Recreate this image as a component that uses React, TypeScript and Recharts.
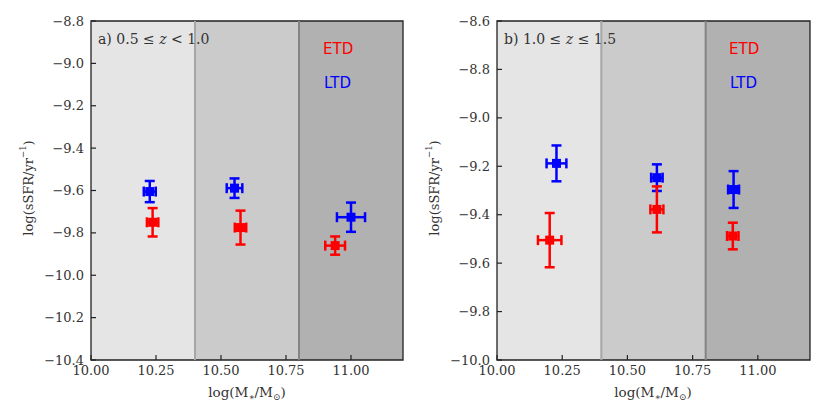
import React from "react"
import { ScatterChart, Scatter, XAxis, YAxis, ErrorBar, ReferenceArea, ReferenceLine } from "recharts"

// stellar mass bins, log(M*/Msun)
const binEdges = [10.0, 10.4, 10.8, 11.2]
const binColors = ["#e5e5e5", "#cbcbcb", "#b1b1b1"]
const binLineColors = ["#a6a6a6", "#848484"]
const xTicks = [10.0, 10.25, 10.5, 10.75, 11.0]

// panel a) 0.5 <= z < 1.0
const aYTicks = [-10.4, -10.2, -10.0, -9.8, -9.6, -9.4, -9.2, -9.0, -8.8]
const aEtdMass = [10.237, 10.575, 10.939]
const aEtdMassErr = [0.022, 0.022, 0.038]
const aEtdSsfr = [-9.75, -9.775, -9.86]
const aEtdSsfrErr = [0.067, 0.08, 0.043]
const aLtdMass = [10.226, 10.552, 11.0]
const aLtdMassErr = [0.023, 0.03, 0.054]
const aLtdSsfr = [-9.605, -9.589, -9.726]
const aLtdSsfrErr = [0.05, 0.046, 0.069]

// panel b) 1.0 <= z <= 1.5
const bYTicks = [-10.0, -9.8, -9.6, -9.4, -9.2, -9.0, -8.8, -8.6]
const bEtdMass = [10.202, 10.613, 10.904]
const bEtdMassErr = [0.045, 0.025, 0.022]
const bEtdSsfr = [-9.505, -9.378, -9.488]
const bEtdSsfrErr = [0.112, 0.095, 0.055]
const bLtdMass = [10.228, 10.613, 10.907]
const bLtdMassErr = [0.038, 0.022, 0.021]
const bLtdSsfr = [-9.188, -9.247, -9.296]
const bLtdSsfrErr = [0.074, 0.055, 0.076]

const SERIF = "'DejaVu Serif', serif"
const SANS = "'DejaVu Sans', sans-serif"
const INK = "#333"
const ETD_COLOR = "#ff0000"
const LTD_COLOR = "#0000ff"

const toRows = (x: number[], xe: number[], y: number[], ye: number[]) =>
  x.map((m, i) => ({ x: m, xe: xe[i], y: y[i], ye: ye[i] }))

const fmtX = (v: number) => v.toFixed(2)
const fmtY = (v: number) => (v < 0 ? "\u2212" + Math.abs(v).toFixed(1) : v.toFixed(1))

const squareShape = (color: string) => (p: any) =>
  <rect x={p.cx - 4.5} y={p.cy - 4.5} width={9} height={9} fill={color} />

interface PanelProps {
  yDomain: [number, number]
  yTicks: number[]
  etd: ReturnType<typeof toRows>
  ltd: ReturnType<typeof toRows>
  width: number
  marginLeft: number
}

function Panel({ yDomain, yTicks, etd, ltd, width, marginLeft }: PanelProps) {
  const tickStyle = { fontFamily: SERIF, fontSize: 13, fill: INK }
  return (
    <ScatterChart width={width} height={409} margin={{ top: 21, right: 7, bottom: 9, left: marginLeft }}>
      <XAxis
        type="number"
        dataKey="x"
        domain={[binEdges[0], binEdges[3]]}
        ticks={xTicks}
        tickFormatter={fmtX}
        allowDataOverflow
        height={40}
        tickSize={-5}
        tickMargin={11}
        axisLine={false}
        tickLine={{ stroke: "#222", strokeWidth: 1.2 }}
        tick={tickStyle}
      />
      <YAxis
        type="number"
        dataKey="y"
        domain={yDomain}
        ticks={yTicks}
        tickFormatter={fmtY}
        allowDataOverflow
        width={60}
        tickSize={-5}
        tickMargin={12}
        axisLine={false}
        tickLine={{ stroke: "#222", strokeWidth: 1.2 }}
        tick={tickStyle}
      />
      {binColors.map((c, i) => (
        <ReferenceArea
          key={c}
          x1={binEdges[i]}
          x2={binEdges[i + 1]}
          y1={yDomain[0]}
          y2={yDomain[1]}
          fill={c}
          fillOpacity={1}
          stroke="none"
        />
      ))}
      {binLineColors.map((c, i) => (
        <ReferenceLine key={c} x={binEdges[i + 1]} stroke={c} strokeWidth={2} />
      ))}
      <ReferenceArea
        x1={binEdges[0]}
        x2={binEdges[3]}
        y1={yDomain[0]}
        y2={yDomain[1]}
        fill="none"
        stroke="#222"
        strokeWidth={1.3}
      />
      <Scatter data={ltd} isAnimationActive={false} shape={squareShape(LTD_COLOR)}>
        <ErrorBar dataKey="xe" direction="x" width={5} stroke={LTD_COLOR} strokeWidth={2.5} />
        <ErrorBar dataKey="ye" direction="y" width={5} stroke={LTD_COLOR} strokeWidth={2.5} />
      </Scatter>
      <Scatter data={etd} isAnimationActive={false} shape={squareShape(ETD_COLOR)}>
        <ErrorBar dataKey="xe" direction="x" width={5} stroke={ETD_COLOR} strokeWidth={2.5} />
        <ErrorBar dataKey="ye" direction="y" width={5} stroke={ETD_COLOR} strokeWidth={2.5} />
      </Scatter>
    </ScatterChart>
  )
}

function Titles({ dx, tag, rel }: { dx: number; tag: string; rel: [string, string] }) {
  return (
    <g>
      <text
        x={28 + dx}
        y={188}
        transform={`rotate(-90 ${28 + dx} 188)`}
        textAnchor="middle"
        dominantBaseline="central"
        fontFamily={SERIF}
        fontSize={13}
        fill={INK}
      >
        log(sSFR/yr<tspan dy={-5} fontSize={8.5}>{"\u22121"}</tspan><tspan dy={5}>)</tspan>
      </text>
      <text x={247 + dx} y={397} textAnchor="middle" fontFamily={SERIF} fontSize={13.5} fill={INK}>
        log(M<tspan dy={3} fontSize={9}>{"\u2217"}</tspan>
        <tspan dy={-3}>/M</tspan>
        <tspan dy={3} fontSize={9}>{"\u2299"}</tspan>
        <tspan dy={-3}>)</tspan>
      </text>
      <text x={98 + dx} y={44} fontFamily={SERIF} fontSize={14} fill={INK}>
        {tag}) {rel[0]} {"\u2264"} <tspan fontStyle="italic">z</tspan> {rel[1]}
      </text>
      <text x={323 + dx} y={54} fontFamily={SANS} fontSize={15} fill={ETD_COLOR}>ETD</text>
      <text x={324 + dx} y={88} fontFamily={SANS} fontSize={15} fill={LTD_COLOR}>LTD</text>
    </g>
  )
}

export default function App() {
  const aEtd = toRows(aEtdMass, aEtdMassErr, aEtdSsfr, aEtdSsfrErr)
  const aLtd = toRows(aLtdMass, aLtdMassErr, aLtdSsfr, aLtdSsfrErr)
  const bEtd = toRows(bEtdMass, bEtdMassErr, bEtdSsfr, bEtdSsfrErr)
  const bLtd = toRows(bLtdMass, bLtdMassErr, bLtdSsfr, bLtdSsfrErr)

  return (
    <div style={{ position: "relative", width: 817, height: 409, background: "#fff" }}>
      <style>{"body{margin:0}"}</style>
      <div style={{ position: "absolute", left: 0, top: 0 }}>
        <Panel yDomain={[-10.4, -8.8]} yTicks={aYTicks} etd={aEtd} ltd={aLtd} width={410} marginLeft={31} />
      </div>
      <div style={{ position: "absolute", left: 410, top: 0 }}>
        <Panel yDomain={[-10.0, -8.6]} yTicks={bYTicks} etd={bEtd} ltd={bLtd} width={407} marginLeft={27} />
      </div>
      <svg width={817} height={409} style={{ position: "absolute", left: 0, top: 0, pointerEvents: "none" }}>
        <Titles dx={0} tag="a" rel={["0.5", "< 1.0"]} />
        <Titles dx={406} tag="b" rel={["1.0", "\u2264 1.5"]} />
      </svg>
    </div>
  )
}
